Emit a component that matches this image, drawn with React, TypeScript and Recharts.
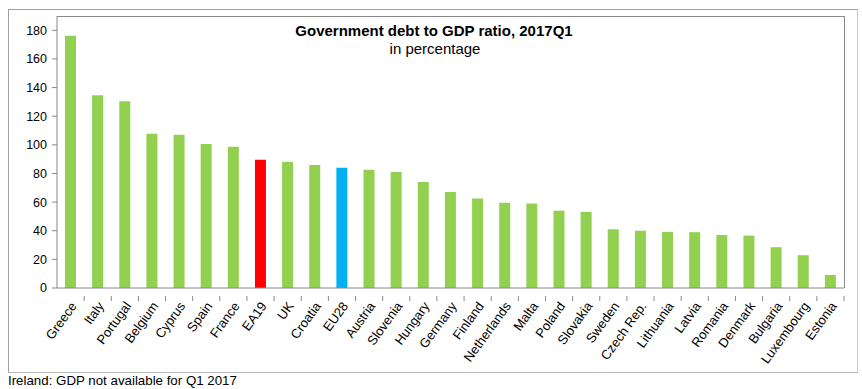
import React from "react";
import { BarChart, Bar, XAxis, YAxis, Cell } from "recharts";

const categories = [
  "Greece", "Italy", "Portugal", "Belgium", "Cyprus", "Spain", "France", "EA19",
  "UK", "Croatia", "EU28", "Austria", "Slovenia", "Hungary", "Germany", "Finland",
  "Netherlands", "Malta", "Poland", "Slovakia", "Sweden", "Czech Rep.", "Lithuania",
  "Latvia", "Romania", "Denmark", "Bulgaria", "Luxembourg", "Estonia",
];

const debtRatio = [
  176.2, 134.7, 130.5, 107.8, 107.0, 100.6, 98.7, 89.5,
  88.0, 86.0, 84.0, 82.6, 81.0, 74.0, 67.0, 62.5,
  59.5, 59.0, 54.0, 53.2, 41.0, 40.0, 39.2,
  39.0, 37.0, 36.6, 28.5, 22.9, 9.1,
];

const yTicks = [0, 20, 40, 60, 80, 100, 120, 140, 160, 180];

const GREEN = "#92d050";
const RED = "#ff0000";
const BLUE = "#00b0f0";
const AXIS = "#888888";
const FONT = "'Liberation Sans', Arial, sans-serif";

const PLOT_LEFT = 57;
const PLOT_TOP = 16;
const PLOT_WIDTH = 787;
const PLOT_HEIGHT = 272;
const BAND = PLOT_WIDTH / categories.length;

const data = categories.map((name, i) => ({ name, value: debtRatio[i] }));

function barColor(name: string) {
  if (name === "EA19") return RED;
  if (name === "EU28") return BLUE;
  return GREEN;
}

const CountryTick = (props: any) => {
  const { x, y, payload } = props;
  const half = BAND / 2;
  const tx = x + 4;
  const ty = y + 8;
  return (
    <g>
      <line x1={x + half} x2={x + half} y1={y} y2={y + 5} stroke={AXIS} />
      <text
        x={tx}
        y={ty}
        textAnchor="end"
        dominantBaseline="middle"
        transform={`rotate(-54 ${tx} ${ty})`}
        fontSize={13}
        fontFamily={FONT}
        fill="#000"
      >
        {payload.value}
      </text>
    </g>
  );
};

export default function App() {
  return (
    <div
      style={{
        position: "absolute",
        left: 0,
        top: 0,
        width: 862,
        height: 389,
        background: "#fff",
        fontFamily: FONT,
      }}
    >
      {/* outer frame */}
      <div
        style={{
          position: "absolute",
          left: 8,
          top: 9,
          width: 850,
          height: 364,
          border: "1px solid #a0a0a0",
          borderRightColor: "#c8c8c8",
          borderBottomColor: "#b8b8b8",
          boxSizing: "border-box",
        }}
      />
      <div style={{ position: "absolute", left: 0, top: 0 }}>
        <BarChart
          width={862}
          height={389}
          data={data}
          margin={{ top: PLOT_TOP, right: 862 - PLOT_LEFT - PLOT_WIDTH, left: 0, bottom: 0 }}
        >
          <XAxis
            dataKey="name"
            interval={0}
            height={389 - PLOT_TOP - PLOT_HEIGHT}
            tickLine={false}
            tick={<CountryTick />}
            stroke={AXIS}
          />
          <YAxis
            domain={[0, 190]}
            ticks={yTicks}
            width={PLOT_LEFT}
            tickSize={5}
            tickMargin={5}
            stroke={AXIS}
            tick={{ fill: "#000", fontSize: 12.5, fontFamily: FONT }}
            interval={0}
          />
          <Bar dataKey="value" barSize={11} isAnimationActive={false}>
            {data.map((d, i) => (
              <Cell key={`cell-${i}`} fill={barColor(d.name)} />
            ))}
          </Bar>
        </BarChart>
      </div>
      {/* plot area border (top and right sides) */}
      <div
        style={{
          position: "absolute",
          left: PLOT_LEFT,
          top: PLOT_TOP,
          width: PLOT_WIDTH + 1,
          height: PLOT_HEIGHT,
          borderTop: `1px solid ${AXIS}`,
          borderRight: `1px solid ${AXIS}`,
          boxSizing: "border-box",
          pointerEvents: "none",
        }}
      />
      <div
        style={{
          position: "absolute",
          left: 0,
          width: 868,
          top: 22,
          textAlign: "center",
          fontSize: 15,
          fontWeight: "bold",
          lineHeight: "18px",
        }}
      >
        Government debt to GDP ratio, 2017Q1
      </div>
      <div
        style={{
          position: "absolute",
          left: 0,
          width: 870,
          top: 40,
          textAlign: "center",
          fontSize: 15,
          lineHeight: "18px",
        }}
      >
        in percentage
      </div>
      <div
        style={{
          position: "absolute",
          left: 8,
          top: 373,
          fontSize: 13.3,
          lineHeight: "16px",
        }}
      >
        Ireland: GDP not available for Q1 2017
      </div>
    </div>
  );
}
